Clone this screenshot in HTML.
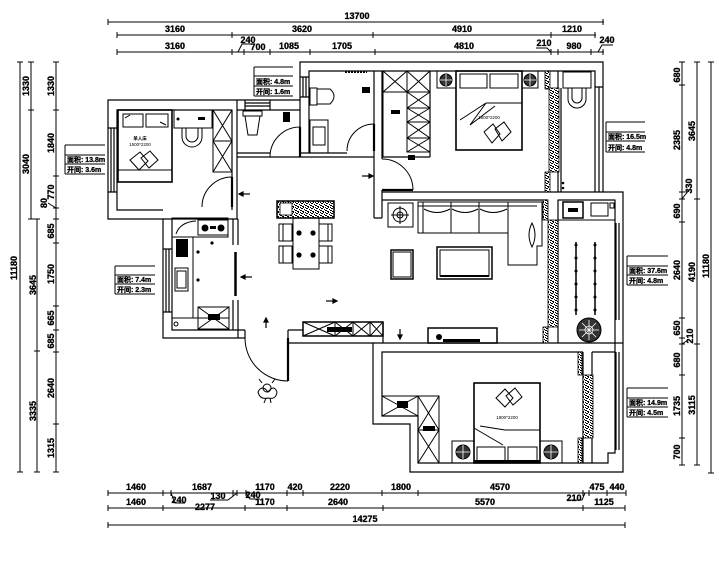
<!DOCTYPE html>
<html><head><meta charset="utf-8">
<style>
html,body{margin:0;padding:0;background:#fff;}
svg{display:block;}
text{font-family:"Liberation Sans","Noto Sans CJK SC",sans-serif;font-weight:bold;fill:#000;stroke:#000;stroke-width:0.3;}
.d{font-size:9px;text-anchor:middle;}
.s{font-size:4.5px;font-weight:normal;text-anchor:middle;stroke-width:0;}
.l{font-size:7px;}
</style></head><body>
<svg width="719" height="579" viewBox="0 0 719 579" xmlns="http://www.w3.org/2000/svg">
<defs>
<pattern id="tx" width="5" height="5" patternUnits="userSpaceOnUse">
<rect width="5" height="5" fill="#fff"/>
<path d="M0 0h2v1h-2z M3 1h1v2h-1z M1 3h2v1h-2z M4 4h1v1h-1z M0 2h1v1h-1z M2 1h1v1h-1z" fill="#000"/>
</pattern>
</defs>
<rect width="719" height="579" fill="#fff"/>

<!-- ========== DIMENSIONS ========== -->
<g fill="none" stroke="#000" stroke-width="1">
<path d="M108 22H604M117 35H596M117 52H604"/>
<path d="M108 19v6M603 19v6M117 32v6M232 32v6M373 32v6M551 32v6M595 32v6M117 49v6M232 49v6M244 49v6M270 49v6M310 49v6M375 49v6M551 49v6M558 49v6M591 49v6M603 49v6"/>
<path d="M238 52L242 44H255M598 52L602 45H613M551 52L547 48H536"/>
<path d="M108 493H626M108 508H625M108 525H625"/>
<path d="M108 490v6M163 490v6M171 490v6M233 490v6M237 490v6M246 490v6M287 490v6M303 490v6M382 490v6M418 490v6M583 490v6M589 490v6M607 490v6M626 490v6"/>
<path d="M108 505v6M163 505v6M245 505v6M287 505v6M383 505v6M583 505v6M625 505v6M108 522v6M625 522v6"/>
<path d="M171 493L175 503H185M237 493L228 500H210M246 493L250 499H260M585 493L582 500H568"/>
<path d="M20 62V472M31 62V219M37 219V472M56 62V472"/>
<path d="M17 62h6M17 472h6M28 62h6M28 110h6M28 219h6M34 219h6M34 351h6M34 472h6"/>
<path d="M53 62h6M53 110h6M53 176h6M53 208h6M53 219h6M53 243h6M53 306h6M53 330h6M53 352h6M53 424h6M53 472h6"/>
<path d="M56 208L48 203"/>
<path d="M682 62V465M697 62V465M711 62V473"/>
<path d="M679 62h6M679 85h6M679 192h6M679 199h6M679 222h6M679 318h6M679 338h6M679 344h6M679 375h6M679 438h6M679 465h6"/>
<path d="M694 62h6M694 199h6M694 344h6M694 465h6M708 62h6M708 473h6"/>
<path d="M682 199L688 191M682 344L688 340"/>
</g>

<g>
<text class="d" x="357" y="19">13700</text>
<text class="d" x="175" y="32">3160</text><text class="d" x="302" y="32">3620</text><text class="d" x="462" y="32">4910</text><text class="d" x="572" y="32">1210</text>
<text class="d" x="175" y="49">3160</text><text class="d" x="258" y="50">700</text><text class="d" x="289" y="49">1085</text><text class="d" x="342" y="49">1705</text><text class="d" x="464" y="49">4810</text><text class="d" x="574" y="49">980</text>
<text class="d" x="248" y="43">240</text><text class="d" x="544" y="46">210</text><text class="d" x="607" y="43">240</text>

<text class="d" x="136" y="490">1460</text><text class="d" x="202" y="490">1687</text><text class="d" x="265" y="490">1170</text><text class="d" x="295" y="490">420</text><text class="d" x="340" y="490">2220</text><text class="d" x="401" y="490">1800</text><text class="d" x="500" y="490">4570</text><text class="d" x="597" y="490">475</text><text class="d" x="617" y="490">440</text>
<text class="d" x="574" y="501">210</text>
<text class="d" x="179" y="503">240</text><text class="d" x="218" y="499">130</text><text class="d" x="253" y="498">240</text>
<text class="d" x="136" y="505">1460</text><text class="d" x="205" y="510">2277</text><text class="d" x="265" y="505">1170</text><text class="d" x="338" y="505">2640</text><text class="d" x="485" y="505">5570</text><text class="d" x="604" y="505">1125</text>
<text class="d" x="365" y="522">14275</text>

<!-- left rotated -->
<text class="d" transform="rotate(-90 29 86)" x="29" y="86">1330</text>
<text class="d" transform="rotate(-90 29 164)" x="29" y="164">3040</text>
<text class="d" transform="rotate(-90 36 285)" x="36" y="285">3645</text>
<text class="d" transform="rotate(-90 36 411)" x="36" y="411">3335</text>
<text class="d" transform="rotate(-90 17 268)" x="17" y="268">11180</text>
<text class="d" transform="rotate(-90 54 86)" x="54" y="86">1330</text>
<text class="d" transform="rotate(-90 54 143)" x="54" y="143">1840</text>
<text class="d" transform="rotate(-90 54 192)" x="54" y="192">770</text>
<text class="d" transform="rotate(-90 47 203)" x="47" y="203">80</text>
<text class="d" transform="rotate(-90 54 231)" x="54" y="231">685</text>
<text class="d" transform="rotate(-90 54 274)" x="54" y="274">1750</text>
<text class="d" transform="rotate(-90 54 318)" x="54" y="318">665</text>
<text class="d" transform="rotate(-90 54 341)" x="54" y="341">685</text>
<text class="d" transform="rotate(-90 54 388)" x="54" y="388">2640</text>
<text class="d" transform="rotate(-90 54 448)" x="54" y="448">1315</text>

<!-- right rotated -->
<text class="d" transform="rotate(-90 680 75)" x="680" y="75">680</text>
<text class="d" transform="rotate(-90 680 140)" x="680" y="140">2385</text>
<text class="d" transform="rotate(-90 692 186)" x="692" y="186">330</text>
<text class="d" transform="rotate(-90 680 211)" x="680" y="211">690</text>
<text class="d" transform="rotate(-90 680 270)" x="680" y="270">2640</text>
<text class="d" transform="rotate(-90 680 328)" x="680" y="328">650</text>
<text class="d" transform="rotate(-90 693 336)" x="693" y="336">210</text>
<text class="d" transform="rotate(-90 680 360)" x="680" y="360">680</text>
<text class="d" transform="rotate(-90 680 406)" x="680" y="406">1735</text>
<text class="d" transform="rotate(-90 680 452)" x="680" y="452">700</text>
<text class="d" transform="rotate(-90 695 131)" x="695" y="131">3645</text>
<text class="d" transform="rotate(-90 695 272)" x="695" y="272">4190</text>
<text class="d" transform="rotate(-90 695 405)" x="695" y="405">3115</text>
<text class="d" transform="rotate(-90 709 266)" x="709" y="266">11180</text>
</g>

<!-- ========== WALLS ========== -->
<g fill="none" stroke="#000" stroke-width="1.2">
<path d="M245 330V338H163V219H108V100H300V62H603V192H623V472H410V424H373V343H288V330"/>
<path d="M163 210H117V110H232"/>
<path d="M237 110H300"/>
<path d="M309 110V71H595V192"/>
<path d="M172 219V330H237"/>
<path d="M615 200V453H608V463H418V416H382V352H583"/>
<path d="M592 352H615"/>
<path d="M232 110V177M237 100V219M232 207V210"/>
<path d="M163 219H238"/>
<path d="M233 219V245M238 219V245M233 300V330M238 300V338"/>
<path d="M237 330H245M288 330H303"/>
<path d="M237 153H270M300 153H347M237 157H374"/>
<path d="M300 100V127M309 110V153"/>
<path d="M374 71V218M382 71V159M382 190V218M374 218H382"/>
<path d="M382 157H430M430 71V157"/>
<path d="M382 192H603M382 200H548M558 200H615"/>
<path d="M558 71V192M561 88V192"/>
<path d="M599 87V192M595 87H603"/>
<path d="M558 200V343M558 343H623M373 343H558M383 322V343"/>
<path d="M583 352V463M592 352V463"/>
<path d="M616 223V320M619 223V320M616 352V450M619 352V450"/>
<path d="M111 128V192M114 128V192M108 128H117M108 192H117"/>
<path d="M166 249V312M169 249V312M163 249H172M163 312H172"/>
<path d="M245 103H270M245 106H270M245 100V110M270 100V110"/>
<path d="M303 77V97M306 77V97M300 77H309M300 97H309"/>
</g>
<path d="M235.5 252V296" stroke="#000" stroke-width="2.5"/>

<!-- doors -->
<g fill="none" stroke="#000" stroke-width="1">
<path d="M232 177A30 30 0 0 0 202 207"/>
<path d="M300 127A30 30 0 0 0 270 157"/>
<path d="M374 124A27 27 0 0 0 347 151"/>
<path d="M382 159A31 31 0 0 1 413 190"/>
<path d="M245 338A43 43 0 0 0 288 381"/>
</g>
<g stroke="#000" stroke-width="2.2" fill="none">
<path d="M232 177V207"/>
<path d="M300 127V157"/>
<path d="M374 124V151"/>
<path d="M382 190H413"/>
<path d="M288 338V381"/>
</g>

<!-- textured walls -->
<g stroke="#000" stroke-width="0.8" fill="url(#tx)">
<rect x="545" y="71" width="5" height="18"/>
<rect x="549" y="88" width="10" height="84"/>
<rect x="545" y="172" width="5" height="20"/>
<rect x="543" y="200" width="5" height="20"/>
<rect x="548" y="220" width="10" height="107"/>
<rect x="543" y="327" width="5" height="16"/>
<rect x="578" y="352" width="4" height="23"/>
<rect x="583" y="375" width="10" height="63"/>
<rect x="578" y="438" width="4" height="25"/>
<rect x="277" y="201" width="57" height="17" stroke-width="1.5"/>
</g>

<!-- ========== FURNITURE ========== -->
<g fill="none" stroke="#000" stroke-width="1">
<!-- left bedroom -->
<rect x="118" y="110" width="54" height="72" stroke-width="1.6"/>
<path d="M118 170H172"/>
<path d="M123 114H143V127H123Z M146 114H168V127H146Z M125 118L130 115M160 122L166 125"/>
<path d="M130 160L140 152L148 161L139 170Z M141 158L150 151L158 160L149 168Z"/>
<rect x="174" y="110" width="38" height="18"/>
<path d="M182 128V137A10 10 0 0 0 202 137V128 M186 128V136A6 6 0 0 0 198 136V128"/>
<rect x="213" y="110" width="19" height="62"/>
<path d="M213 141H232M213 110L232 141M232 110L213 141M213 141L232 172M232 141L213 172"/>

<!-- kitchen -->
<rect x="172" y="218" width="56" height="19"/>
<path d="M176 234Q180 222 196 221"/>
<rect x="198" y="220" width="30" height="15"/>
<path d="M193 237V318M172 318H229"/>
<rect x="175" y="268" width="13" height="23"/>
<rect x="177" y="271" width="9" height="17"/>
<rect x="198" y="307" width="31" height="22"/>
<path d="M198 307L229 329M229 307L198 329"/>
<circle cx="176" cy="324" r="2"/>

<!-- bath 1 -->
<path d="M243 111H262V116H243Z M245 116L248 135H257L260 116"/>
<!-- bath 2 -->
<rect x="310" y="88" width="7" height="17"/>
<path d="M317 89H330Q338 96 330 104H317Z"/>
<rect x="310" y="120" width="18" height="33"/>
<rect x="313" y="127" width="12" height="18"/>
<path d="M345 72H367" stroke-dasharray="2 1" stroke-width="2"/>

<!-- closet -->
<rect x="383" y="71" width="24" height="21"/>
<path d="M383 71L407 92M407 71L383 92"/>
<rect x="407" y="71" width="23" height="81"/>
<path d="M407 92H430M407 108H430M407 122H430M407 138H430"/>
<path d="M407 71L430 92M430 71L407 92M407 92L430 108M430 92L407 108M407 108L430 122M430 108L407 122M407 122L430 138M430 122L407 138M407 138L430 152M430 138L407 152"/>
<path d="M383 92V157"/>

<!-- master bedroom -->
<rect x="437" y="71" width="19" height="17"/>
<rect x="456" y="71" width="66" height="79" stroke-width="1.6"/>
<rect x="522" y="71" width="16" height="17"/>
<path d="M460 74H487V88H460Z M490 74H518V88H490Z"/>
<path d="M486 103H522M486 103L460 120M486 103L470 125L495 106"/>
<path d="M484 132L493 124L500 134L492 143Z M495 129L504 122L511 132L502 141Z"/>
<rect x="563" y="72" width="28" height="16"/>
<path d="M568 88V99A9 9 0 0 0 586 99V88 M572 88V98A5 5 0 0 0 582 98V88"/>

<!-- living -->
<rect x="388" y="203" width="25" height="24"/>
<circle cx="400" cy="215" r="7"/>
<circle cx="400" cy="215" r="3"/>
<path d="M391 215H409M400 206V224"/>
<path d="M418 202H542V246H537V265H508V233H418Z"/>
<path d="M423 202V233M451 202V233M479 202V233M508 202V233M418 206H537"/>
<path d="M424 209Q437 216 450 209M452 209Q465 216 478 209M480 209Q493 216 507 209"/>
<path d="M532 223Q526 235 532 247Q538 235 532 223Z"/>
<rect x="437" y="247" width="55" height="32" stroke-width="1.5"/>
<rect x="440" y="250" width="49" height="26"/>
<path d="M440 276H489" stroke-width="2"/>
<rect x="391" y="250" width="22" height="29" stroke-width="1.5"/>
<rect x="393" y="252" width="18" height="25"/>
<rect x="428" y="328" width="69" height="15" stroke-width="1.5"/>

<!-- balcony -->
<rect x="558" y="200" width="57" height="20"/>
<rect x="563" y="202" width="20" height="16" stroke-width="1.5"/>
<rect x="591" y="203" width="17" height="13"/>
<rect x="610" y="203" width="4" height="5"/>
<path d="M576 242V315M595 242V315" stroke-width="1.5"/>

<!-- dining -->
<rect x="293" y="218" width="26" height="51"/>
<rect x="279" y="224" width="13" height="17"/><rect x="279" y="246" width="13" height="17"/>
<rect x="319" y="224" width="13" height="17"/><rect x="319" y="246" width="13" height="17"/>
<path d="M283 224V241M283 246V263M328 224V241M328 246V263"/>
<rect x="303" y="322" width="80" height="14" stroke-width="1.5"/>
<path d="M335 322V336M353 322V336M370 322V336"/>
<path d="M303 322L335 336M335 322L303 336M335 322L353 336M353 322L335 336M353 322L370 336M370 322L353 336M370 322L383 336M383 322L370 336"/>

<!-- bottom bedroom -->
<rect x="474" y="383" width="66" height="80" stroke-width="1.6"/>
<path d="M477 447H505V461H477Z M508 447H537V461H508Z"/>
<path d="M505 430H540M474 428L503 445M480 426L505 430"/>
<path d="M496 398L505 389L513 398L505 407Z M506 396L515 388L522 397L513 405Z"/>
<rect x="452" y="441" width="22" height="22"/>
<rect x="540" y="441" width="22" height="22"/>
<rect x="382" y="396" width="36" height="20"/>
<path d="M382 396L418 416M418 396L382 416"/>
<rect x="418" y="396" width="21" height="67"/>
<path d="M418 430H439M418 396L439 430M439 396L418 430M418 430L439 463M439 430L418 463"/>

<!-- person -->
<circle cx="267" cy="388" r="4"/>
<path d="M258 392Q262 384 268 392Q274 384 277 392Q276 400 268 398Q260 400 258 392Z M266 398L264 403M270 398L271 403M262 383L259 379M272 383L275 379"/>
</g>

<!-- dark fills -->
<g fill="#000" stroke="none">
<circle cx="205" cy="228" r="3.5"/><circle cx="221" cy="228" r="3.5"/>
<rect x="210" y="226" width="6" height="3"/>
<rect x="176" y="239" width="12" height="18"/>
<circle cx="178" cy="119" r="1.5"/>
<rect x="198" y="117" width="7" height="3"/>
<circle cx="198" cy="252" r="1.6"/><circle cx="198" cy="280" r="1.6"/><circle cx="212" cy="243" r="1.6"/>
<rect x="208" y="314" width="12" height="6"/>
<rect x="283" y="112" width="7" height="10"/>
<rect x="362" y="87" width="8" height="6"/>
<rect x="391" y="110" width="9" height="4"/>
<rect x="408" y="155" width="7" height="5"/>
<circle cx="299" cy="233" r="2.6"/><circle cx="313" cy="233" r="2.6"/>
<circle cx="299" cy="255" r="2.6"/><circle cx="313" cy="255" r="2.6"/>
<rect x="327" y="327" width="25" height="5"/>
<circle cx="439" cy="337" r="3"/>
<rect x="443" y="339" width="37" height="3"/>
<rect x="568" y="208" width="10" height="4"/>
<circle cx="563" cy="183" r="1.3"/><circle cx="563" cy="188" r="1.3"/>
<rect x="397" y="401" width="11" height="7"/>
<rect x="423" y="426" width="12" height="5"/>
<rect x="474" y="460" width="66" height="3"/>
</g>
<g stroke="#000" stroke-width="1">
<circle cx="446" cy="80" r="6" fill="#333"/>
<circle cx="530" cy="80" r="6" fill="#333"/>
<circle cx="463" cy="452" r="7" fill="#333"/>
<circle cx="551" cy="452" r="7" fill="#333"/>
<circle cx="589" cy="330" r="12" fill="#333"/>
</g>
<g stroke="#fff" stroke-width="0.8" fill="none">
<path d="M440 80H452M446 74V86M524 80H536M530 74V86M456 452H470M463 445V459M544 452H558M551 445V459"/>
<circle cx="589" cy="330" r="4"/>
<path d="M579 330H599M589 320V340M582 323L596 337M596 323L582 337"/>
</g>
<g fill="#fff" stroke="#000" stroke-width="0.8">
<rect x="280" y="203" width="12" height="12"/>
</g>
<g fill="#000">
<circle cx="576" cy="245" r="1.5"/><circle cx="576" cy="258" r="1.5"/><circle cx="576" cy="271" r="1.5"/><circle cx="576" cy="284" r="1.5"/><circle cx="576" cy="297" r="1.5"/><circle cx="576" cy="310" r="1.5"/>
<circle cx="595" cy="245" r="1.5"/><circle cx="595" cy="258" r="1.5"/><circle cx="595" cy="271" r="1.5"/><circle cx="595" cy="284" r="1.5"/><circle cx="595" cy="297" r="1.5"/><circle cx="595" cy="310" r="1.5"/>
</g>

<!-- arrows -->
<g stroke="#000" stroke-width="1.2" fill="#000">
<path d="M241 194H250" fill="none"/><path d="M239 194L243 192V196Z"/>
<path d="M362 176H371" fill="none"/><path d="M373 176L369 174V178Z"/>
<path d="M243 277H252" fill="none"/><path d="M241 277L245 275V279Z"/>
<path d="M326 301H335" fill="none"/><path d="M337 301L333 299V303Z"/>
<path d="M266 320V328" fill="none"/><path d="M266 318L264 322H268Z"/>
<path d="M400 329V337" fill="none"/><path d="M400 339L398 335H402Z"/>
</g>

<!-- small labels -->
<text class="s" x="140" y="140" style="font-weight:bold">单人床</text>
<text class="s" x="140" y="146">1500*2200</text>
<text class="s" x="489" y="119">1800*2200</text>
<text class="s" x="507" y="419">1800*2200</text>

<!-- area labels -->
<g fill="none" stroke="#000" stroke-width="1">
<path d="M65 145H105M65 155H105M65 164H105M65 174H105M65 145V174"/>
<path d="M254 67H293M254 76H293M254 86H293M254 96H293M254 67V96"/>
<path d="M606 122H645M606 132H645M606 141H645M606 152H645M606 122V152"/>
<path d="M115 266H155M115 275H155M115 284H155M115 294H155M115 266V294"/>
<path d="M627 256H668M627 266H668M627 275H668M627 285H668M627 256V285"/>
<path d="M627 388H668M627 398H668M627 407H668M627 417H668M627 388V417"/>
</g>
<g class="l">
<text class="l" x="67" y="162">面积: 13.8m</text><text class="l" x="67" y="172">开间: 3.6m</text>
<text class="l" x="256" y="84">面积: 4.8m</text><text class="l" x="256" y="94">开间: 1.6m</text>
<text class="l" x="608" y="139">面积: 16.5m</text><text class="l" x="608" y="150">开间: 4.8m</text>
<text class="l" x="117" y="282">面积: 7.4m</text><text class="l" x="117" y="292">开间: 2.3m</text>
<text class="l" x="629" y="273">面积: 37.6m</text><text class="l" x="629" y="283">开间: 4.8m</text>
<text class="l" x="629" y="405">面积: 14.9m</text><text class="l" x="629" y="415">开间: 4.5m</text>
</g>
</svg>
</body></html>
